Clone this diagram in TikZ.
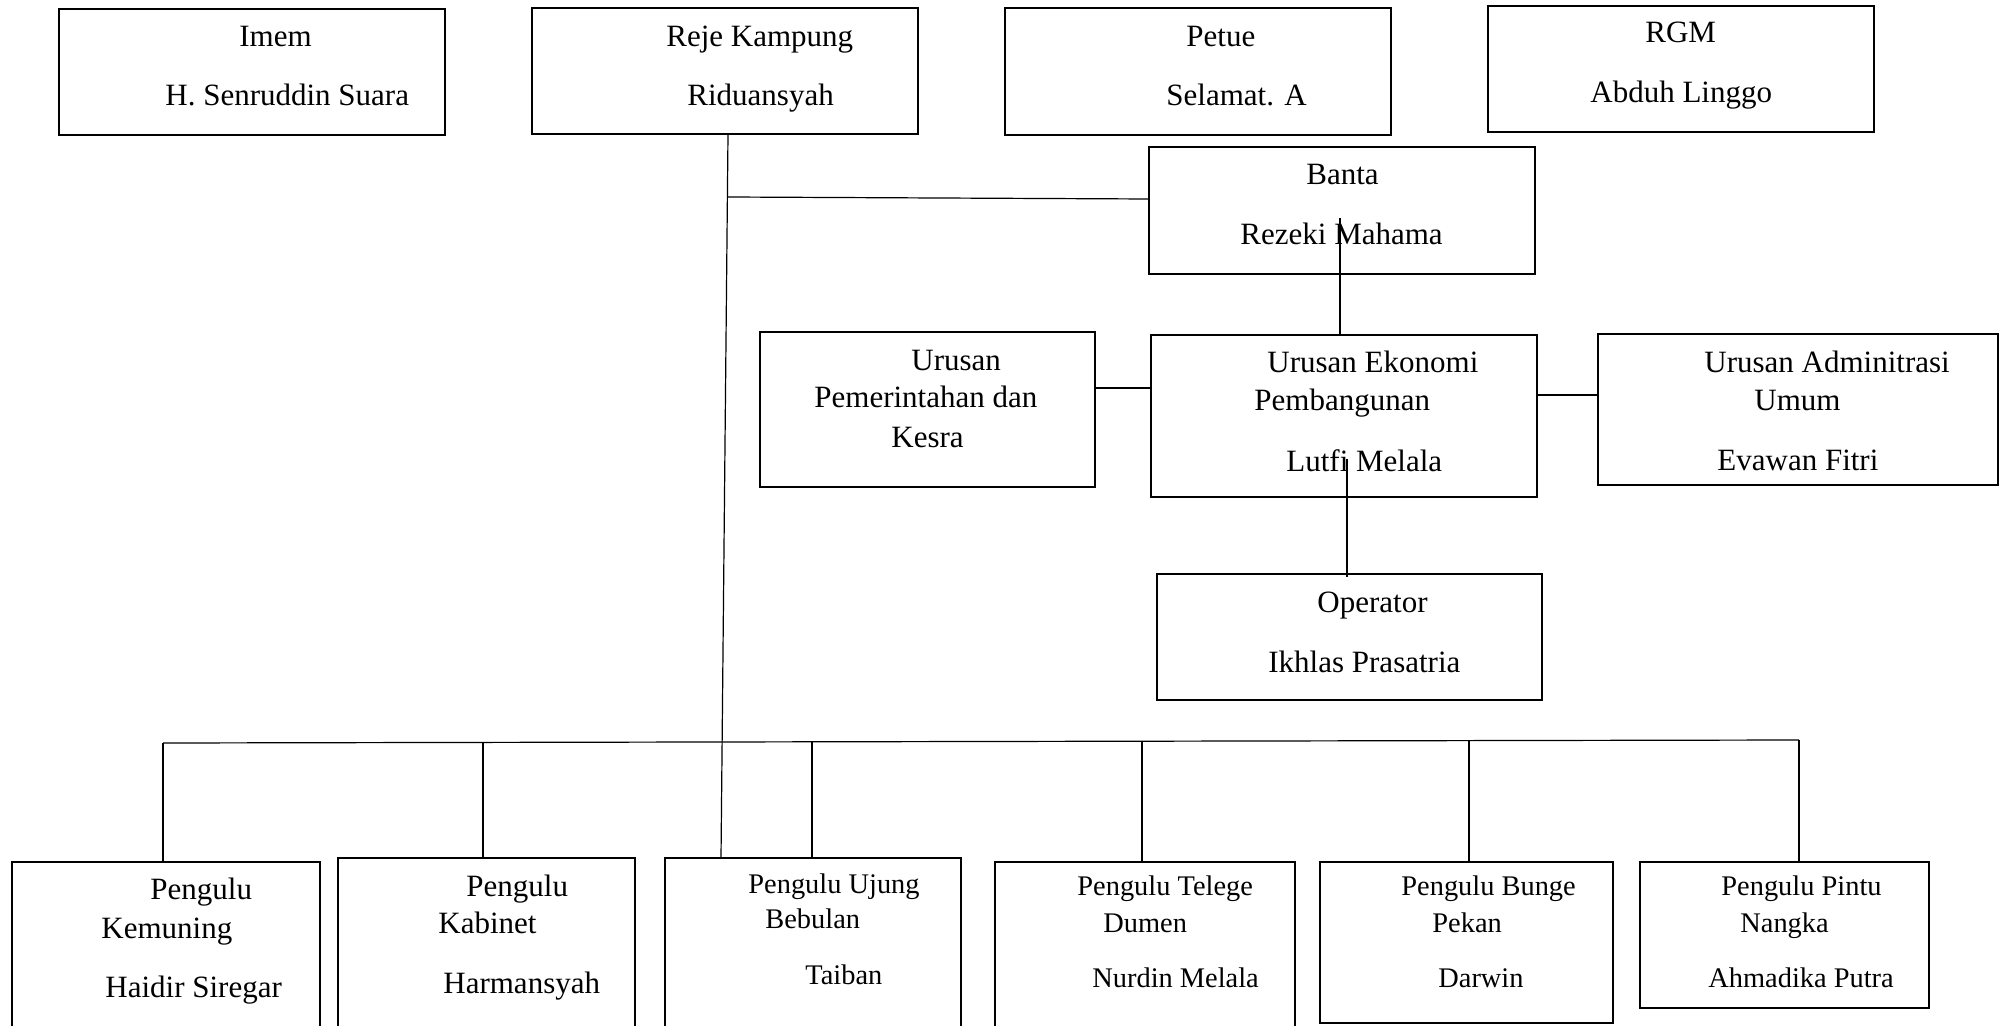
\documentclass[tikz,border=0pt]{standalone}
\usepackage{fontspec}
\setmainfont{Liberation Serif}
\newcommand{\mkbox}[5]{%
  \node[boxst, minimum width={(#4-#2)*0.5pt}, minimum height={(#5-#3)*0.5pt}] (#1) at ({(#2+#4)/2},{(#3+#5)/2}) {};}
\begin{document}
\begin{tikzpicture}[x=0.5pt,y=-0.5pt,
  boxst/.style={draw, line width=0.7pt, inner sep=0pt, outer sep=0pt},
  txt/.style={inner sep=0pt, anchor=base west, font=\fontsize{15.5}{18}\selectfont},
  stxt/.style={inner sep=0pt, anchor=base west, font=\fontsize{14.2}{17}\selectfont},
  conn/.style={line width=0.6pt},
  thickconn/.style={line width=1.1pt}]
\useasboundingbox (0,0) rectangle (2007,1026);
\clip (0,0) rectangle (2007,1026);
% boxes
\mkbox{imem}{59}{9}{445}{135}
\mkbox{reje}{532}{8}{918}{134}
\mkbox{petue}{1005}{8}{1391}{135}
\mkbox{rgm}{1488}{6}{1874}{132}
\mkbox{banta}{1149}{147}{1535}{274}
\mkbox{pem}{760}{332}{1095}{487}
\mkbox{eko}{1151}{335}{1537}{497}
\mkbox{adm}{1598}{334}{1998}{485}
\mkbox{oper}{1157}{574}{1542}{700}
\mkbox{pa}{12}{862}{320}{1045}
\mkbox{pb}{338}{858}{635}{1045}
\mkbox{pc}{665}{858}{961}{1045}
\mkbox{pd}{995}{862}{1295}{1045}
\mkbox{pe}{1320}{862}{1613}{1023}
\mkbox{pf}{1640}{862}{1929}{1008}
% texts
\node[txt] (t1) at (239,47) {Imem};
\node[txt] (t2) at (165,106) {H. Senruddin Suara};
\node[txt] (t3) at (666,47) {Reje Kampung};
\node[txt] (t4) at (687,106) {Riduansyah};
\node[txt] (t5) at (1186,47) {Petue};
\node[txt] (t6) at (1166,106) {Selamat. A};
\node[txt] (t7) at (1645,43) {RGM};
\node[txt] (t8) at (1590,103) {Abduh Linggo};
\node[txt] (t9) at (1306,185) {Banta};
\node[txt] (t10) at (1240,245) {Rezeki Mahama};
\node[txt] (t11) at (911,371) {Urusan};
\node[txt] (t12) at (814,408) {Pemerintahan dan};
\node[txt] (t13) at (891,447) {Kesra};
\node[txt] (t14) at (1267,373) {Urusan Ekonomi};
\node[txt] (t15) at (1254,410) {Pembangunan};
\node[txt] (t16) at (1286,471) {Lutfi Melala};
\node[txt] (t17) at (1704,373) {Urusan Adminitrasi};
\node[txt] (t18) at (1754,410) {Umum};
\node[txt] (t19) at (1717,470) {Evawan Fitri};
\node[txt] (t20) at (1317,612) {Operator};
\node[txt] (t21) at (1268,672) {Ikhlas Prasatria};
\node[txt] (t22) at (150,899) {Pengulu};
\node[txt] (t23) at (101,938) {Kemuning};
\node[txt] (t24) at (105,997) {Haidir Siregar};
\node[txt] (t25) at (466,896) {Pengulu};
\node[txt] (t26) at (438,933) {Kabinet};
\node[txt] (t27) at (443,993) {Harmansyah};
\node[stxt] (t28) at (748,893) {Pengulu Ujung};
\node[stxt] (t29) at (765,928) {Bebulan};
\node[stxt] (t30) at (805,984) {Taiban};
\node[stxt] (t31) at (1077,895) {Pengulu Telege};
\node[stxt] (t32) at (1103,932) {Dumen};
\node[stxt] (t33) at (1092,987) {Nurdin Melala};
\node[stxt] (t34) at (1401,895) {Pengulu Bunge};
\node[stxt] (t35) at (1432,932) {Pekan};
\node[stxt] (t36) at (1438,987) {Darwin};
\node[stxt] (t37) at (1721,895) {Pengulu Pintu};
\node[stxt] (t38) at (1740,932) {Nangka};
\node[stxt] (t39) at (1708,987) {Ahmadika Putra};
% connectors
\coordinate (br) at (728,197);
\coordinate (bin) at (1340,218);
\coordinate (ein) at (1347,459);
\coordinate (eend) at (1347,577);
\coordinate (da) at (163,743);
\coordinate (db) at (483,742.4);
\coordinate (dc) at (812,741.8);
\coordinate (dd) at (1142,741.2);
\coordinate (de) at (1469,740.6);
\coordinate (df) at (1799,740);
\draw[conn] (reje.south -| 728,0) -- (pc.north -| 721,0);
\draw[conn] (br) -- (banta.west |- 0,199);
\draw[thickconn] (bin) -- (eko.north -| bin);
\draw[thickconn] (pem.east |- 0,388) -- (eko.west |- 0,388);
\draw[thickconn] (eko.east |- 0,395) -- (adm.west |- 0,395);
\draw[thickconn] (ein) -- (eend);
\draw[conn] (da) -- (df);
\draw[conn] (da) -- (pa.north -| da);
\draw[conn] (db) -- (pb.north -| db);
\draw[conn] (dc) -- (pc.north -| dc);
\draw[conn] (dd) -- (pd.north -| dd);
\draw[conn] (de) -- (pe.north -| de);
\draw[conn] (df) -- (pf.north -| df);
\end{tikzpicture}
\end{document}
